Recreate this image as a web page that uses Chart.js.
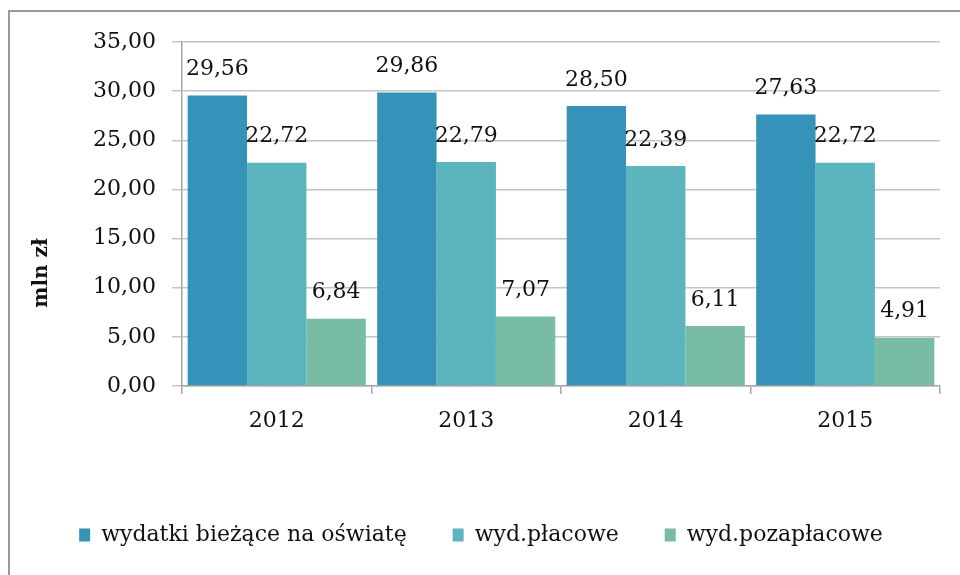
<!DOCTYPE html>
<html>
<head>
<meta charset="utf-8">
<script src="https://cdn.jsdelivr.net/npm/chart.js@4"></script>
<style>
  body { margin: 0; background: #fff; overflow: hidden; }
  .frame { position: absolute; left: 8px; top: 10px; width: 990px; height: 600px; border: 2px solid #9a9a9a; }
  .wrap { position: absolute; left: 0; top: 0; width: 960px; height: 575px; }
</style>
</head>
<body>
<div class="frame"></div>
<div class="wrap"><canvas id="myChart" width="960" height="575"></canvas></div>
<script>
var years = ["2012", "2013", "2014", "2015"];
var biezace = [29.56, 29.86, 28.50, 27.63];
var placowe = [22.72, 22.79, 22.39, 22.72];
var pozaplacowe = [6.84, 7.07, 6.11, 4.91];

var serif = "'DejaVu Serif', serif";
Chart.defaults.font.family = serif;

function fmt(v) {
    return v.toFixed(2).replace(".", ",");
}

// value labels above each bar + the axis title (sits a bit below middle in the original)
var barLabels = {
    id: "barLabels",
    afterDatasetsDraw: function (chart) {
        var ctx = chart.ctx;
        ctx.save();
        ctx.font = "22px " + serif;
        ctx.fillStyle = "#111";
        ctx.textAlign = "center";
        ctx.textBaseline = "middle";
        chart.data.datasets.forEach(function (ds, i) {
            chart.getDatasetMeta(i).data.forEach(function (bar, j) {
                ctx.fillText(fmt(ds.data[j]), bar.x, bar.y - 26);
            });
        });
        ctx.translate(42, 273);
        ctx.rotate(-Math.PI / 2);
        ctx.font = "bold 20px " + serif;
        ctx.fillText("mln zł", 0, 0);
        ctx.restore();
    }
};

const ctx = document.getElementById("myChart");

new Chart(ctx, {
    type: "bar",
    data: {
        labels: years,
        datasets: [
            { label: "wydatki bieżące na oświatę", data: biezace, backgroundColor: "#3593ba" },
            { label: "wyd.płacowe", data: placowe, backgroundColor: "#5cb5be" },
            { label: "wyd.pozapłacowe", data: pozaplacowe, backgroundColor: "#78bca4" }
        ]
    },
    options: {
        responsive: false,
        animation: false,
        layout: { padding: { left: 22, right: 20, top: 42, bottom: 19 } },
        datasets: {
            bar: { categoryPercentage: 0.94, barPercentage: 1 }
        },
        plugins: {
            tooltip: { enabled: false },
            legend: {
                position: "bottom",
                labels: {
                    font: { family: serif, size: 22 },
                    color: "#111",
                    boxWidth: 11,
                    boxHeight: 13,
                    padding: 46
                }
            }
        },
        scales: {
            x: {
                grid: { drawOnChartArea: false, color: "#a6a6a6", lineWidth: 1.5, tickLength: 8 },
                border: { color: "#a6a6a6", width: 1.5 },
                ticks: { font: { family: serif, size: 22 }, color: "#111", padding: 14 },
                afterFit: function (s) { s.height = 92; }
            },
            y: {
                min: 0,
                max: 35,
                grid: { color: "#c4c4c4", lineWidth: 1.5, tickLength: 10 },
                border: { color: "#a6a6a6", width: 1.5 },
                ticks: {
                    stepSize: 5,
                    font: { family: serif, size: 22 },
                    color: "#111",
                    padding: 16,
                    callback: function (v) { return fmt(v); }
                },
                afterFit: function (s) { s.width = 160; }
            }
        }
    },
    plugins: [barLabels]
});
</script>
</body>
</html>
